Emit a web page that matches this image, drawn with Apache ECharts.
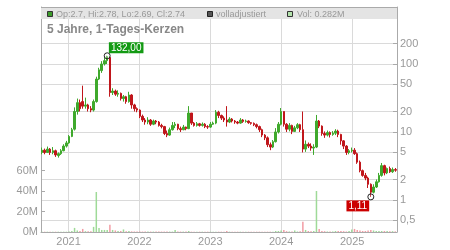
<!DOCTYPE html>
<html><head><meta charset="utf-8">
<script src="https://cdn.jsdelivr.net/npm/echarts@6/dist/echarts.min.js"></script>
<style>html,body{margin:0;padding:0;background:#fff}#c{width:450px;height:250px}</style>
</head><body><div id="c"></div>
<script>
// [date, open, close, low, high]
const candles = [
['2020-08-17',5.0,5.4,4.7,5.9],['2020-08-31',5.4,5.0,4.7,5.7],['2020-09-14',5.0,5.6,4.9,6.1],['2020-09-28',5.6,5.0,4.6,5.8],
['2020-10-12',5.0,5.3,4.7,6.0],['2020-10-26',5.3,4.6,4.3,5.5],['2020-11-09',4.5,4.8,4.2,5.0],['2020-11-23',4.8,5.3,4.6,5.6],
['2020-12-07',5.3,6.2,5.2,6.6],['2020-12-21',6.2,6.9,5.9,7.4],['2021-01-04',6.9,8.6,6.7,9.0],['2021-01-18',8.6,10.8,8.4,11.5],
['2021-02-01',11,20,10.5,23],['2021-02-15',20,27,18,31],['2021-03-01',27,22,20,30],['2021-03-15',28,24,22,48],
['2021-03-29',24,25,22,32],['2021-04-12',25,22,20,26],['2021-04-26',22,21,19.5,24],['2021-05-10',21,28,20,30],
['2021-05-24',28,60,27,65],['2021-06-07',60,82,58,88],['2021-06-21',80,100,74,110],['2021-07-05',100,112,95,125],
['2021-07-19',112,128,100,132],['2021-08-02',125,38,33,128],['2021-08-16',38,40,35,44],['2021-08-30',40,36,34,42],
['2021-09-13',36,37,33,41],['2021-09-27',37,31,29,38],['2021-10-11',31,33,28,35],['2021-10-25',33,28,26,34],
['2021-11-08',28,35,27,39],['2021-11-22',35,25,22,36],['2021-12-06',25,22,20,26],['2021-12-20',22,21,19.5,23],
['2022-01-03',21,17,16,21.5],['2022-01-17',17,15,14,18],['2022-01-31',15,14,12.8,16],['2022-02-14',14,15,13,16.5],
['2022-02-28',15,13,12.3,15.5],['2022-03-14',13,14.5,12.6,15.2],['2022-03-28',14.5,14,13,15],['2022-04-11',14,12.5,12,14.5],
['2022-04-25',12.5,12,11.3,13.2],['2022-05-09',12,9.5,9,12.3],['2022-05-23',9.5,9.0,8.4,10.5],['2022-06-06',9.0,10.8,8.8,11.6],
['2022-06-20',10.8,12.5,10.5,14],['2022-07-04',12.5,13,11.4,14],['2022-07-18',13,11.2,10.6,13.2],['2022-08-01',11.2,10.8,10,12],
['2022-08-15',10.8,11.8,10.6,12.7],['2022-08-29',11.8,11.2,10.6,12],['2022-09-12',11.2,19,11,24],['2022-09-26',19,13.5,12.7,19],
['2022-10-10',13.5,12.5,12,14],['2022-10-24',12.5,13.2,12,14],['2022-11-07',13.2,12.5,12,13.6],['2022-11-21',12.5,13,12,13.8],
['2022-12-05',13,12,11.4,13.5],['2022-12-19',12,11.8,11.1,12.6],['2023-01-02',11.8,13,11.5,14],['2023-01-16',13,13.5,12.7,14.2],
['2023-01-30',13.5,19.5,13,21],['2023-02-13',19.5,17.5,16,20.5],['2023-02-27',17.5,16,15,18],['2023-03-13',16,15,14,17],
['2023-03-27',15,14,12,24],['2023-04-10',14,15.5,13.5,16.5],['2023-04-24',15.5,14.5,13.8,16],['2023-05-08',14.5,14,13.2,15],
['2023-05-22',14,13.5,13,14.5],['2023-06-05',13.5,15,13.2,16],['2023-06-19',15,14.3,13.6,15.5],['2023-07-03',14.3,14.5,13.7,15.2],
['2023-07-17',14.5,13.7,13.2,14.8],['2023-07-31',13.7,13.4,12.8,14],['2023-08-14',13.4,12.8,12.2,13.8],['2023-08-28',12.8,12,11.3,13.3],
['2023-09-11',12,10.8,10,12.4],['2023-09-25',10.8,9,8.4,11.2],['2023-10-09',9,8.2,7.6,9.3],['2023-10-23',8.2,6.5,6,8.6],
['2023-11-06',6.5,6.0,5.4,7],['2023-11-20',6.0,7.2,5.8,7.6],['2023-12-04',7.2,10,7,11.4],['2023-12-18',10,13,9.5,14],
['2024-01-01',13,20,12.5,22.5],['2024-01-15',20,13,12,20],['2024-01-29',13,11,10,13.5],['2024-02-12',11,12.5,10.2,13.5],
['2024-02-26',12.5,10.2,9.3,12.8],['2024-03-11',10.2,11.5,10,12.3],['2024-03-25',11.5,12.8,11,13.5],['2024-04-08',12.8,10.8,10,13.2],
['2024-04-22',10.8,5.6,5.0,20],['2024-05-06',5.6,6.6,5.1,7.5],['2024-05-20',6.6,6.2,5.8,7.0],['2024-06-03',6.2,5.8,5.3,6.8],
['2024-06-17',5.8,6.0,4.6,6.6],['2024-07-01',6.0,14.5,5.8,17.8],['2024-07-15',14.5,12.2,11.4,15],['2024-07-29',12.2,9.5,8.8,12.5],
['2024-08-12',9.5,9.0,8.2,10.2],['2024-08-26',9.0,9.8,8.6,10.5],['2024-09-09',9.8,9.2,8.3,10.2],['2024-09-23',9.2,9.6,8.8,10.3],
['2024-10-07',9.6,10.3,9.0,11],['2024-10-21',10.3,9.2,8.4,10.8],['2024-11-04',9.2,7.4,6.5,9.4],['2024-11-18',7.4,6.2,5.6,7.6],
['2024-12-02',6.2,5.0,4.6,6.4],['2024-12-16',5.0,5.3,4.7,5.6],['2024-12-30',5.3,5.4,5.0,5.9],['2025-01-13',5.4,4.8,4.6,5.8],
['2025-01-27',4.8,3.6,3.4,5.0],['2025-02-10',3.6,2.7,2.55,3.8],['2025-02-24',2.7,2.3,2.2,2.8],['2025-03-10',2.3,2.1,1.95,2.5],
['2025-03-24',2.1,1.7,1.5,2.2],['2025-04-07',1.7,1.3,1.11,1.75],['2025-04-21',1.3,1.55,1.25,1.7],['2025-05-05',1.55,1.85,1.5,2.0],
['2025-05-19',1.85,2.3,1.8,2.5],['2025-06-02',2.3,3.2,2.2,3.5],['2025-06-16',3.2,2.5,2.3,3.3],['2025-06-30',2.5,2.9,2.4,3.0],
['2025-07-14',2.9,2.6,2.5,3.1],['2025-07-28',2.6,2.8,2.5,3.0],['2025-08-11',2.8,2.74,2.6,2.95]
];
// volume in millions, one per candle
const volumes = [
0.3,0.3,0.3,0.3,0.3,0.3,0.3,0.3,0.3,0.3,
0.5,1,4,1.5,1,3,0.8,0.8,0.8,5,
39,4,2,2,2,7,2,1.5,1,1,
2.5,0.8,1,0.6,0.5,0.5,0.4,0.4,0.4,0.4,
0.4,0.4,0.4,0.4,0.4,0.4,0.4,0.4,0.4,2,
0.4,0.4,0.4,0.4,1,0.3,0.3,0.3,0.3,0.3,
0.3,0.3,0.3,0.3,0.3,0.3,0.3,0.3,1,0.3,
0.3,0.3,0.3,0.3,0.3,0.3,0.3,0.3,0.3,0.3,
0.3,0.3,0.3,0.3,0.3,0.3,1,1,1.5,2,
0.8,0.5,0.5,1.5,0.5,0.8,10,2,1,0.8,
1,40,3,1,0.8,0.5,0.5,0.5,1,1,
1,0.8,0.5,1,2.5,3,2,1.5,1,1,
1.5,2,1.5,1,1,1,1,1,0.8,0.8,0.6
];
const yearTicks = ['2021-01-01','2022-01-01','2023-01-01','2024-01-01','2025-01-01'];
const priceTicks = [0.5,1,2,5,10,20,50,100,200];
const volTicks = [0,20,40,60];
const titleText = '5 Jahre, 1-Tages-Kerzen';
const legendTexts = ['Op:2.7, Hi:2.78, Lo:2.69, Cl:2.74','volladjustiert','Vol: 0.282M'];
const maxPoint = ['2021-07-19',132]; const maxLabel = '132,00';
const minPoint = ['2025-04-07',1.11]; const minLabel = '1,11';

const UP='#3fa92c', DOWN='#c0161b', VUP='#9fda98', VDOWN='#f29ca4';
const FONT='"Liberation Sans", Arial, sans-serif';
const GRID='#dadada', AX='#aaaaaa', TXT='#999999';
const YEAR = 365*24*3600*1000;

const volData = candles.map((c,i)=>({value:[c[0], volumes[i]], itemStyle:{color: c[2]>=c[1]?VUP:VDOWN}}));

const chart = echarts.init(document.getElementById('c'), null, {renderer:'canvas'});
chart.setOption({
  animation:false,
  grid:{left:41,right:53,top:7,bottom:18},
  xAxis:{type:'time',min:'2020-08-16',max:'2025-08-16',minInterval:YEAR,maxInterval:YEAR*1.01,
    axisLine:{show:true,lineStyle:{color:AX}},axisTick:{show:false},
    splitLine:{show:false},
    axisLabel:{formatter:v=>{const d=new Date(v);return (d.getMonth()===0&&d.getDate()===1)?String(d.getFullYear()):'';},
      color:TXT,fontSize:11,fontFamily:FONT,margin:4,showMinLabel:false,showMaxLabel:false}},
  yAxis:[
    {type:'log',logBase:10,position:'right',min:0.338,max:689,
     axisLine:{show:true,lineStyle:{color:AX}},
     axisTick:{show:true,inside:true,length:4,customValues:priceTicks,lineStyle:{color:AX}},
     axisLabel:{customValues:priceTicks,formatter:v=>String(v).replace('.',','),color:TXT,fontSize:11,fontFamily:FONT,margin:3},
     splitLine:{show:false}},
    {type:'value',position:'left',min:0,max:219.5,
     axisLine:{show:true,lineStyle:{color:AX}},
     axisTick:{show:true,inside:true,length:4,customValues:volTicks,lineStyle:{color:AX}},
     axisLabel:{customValues:volTicks,formatter:v=>v+'M',color:TXT,fontSize:11,fontFamily:FONT,margin:3},
     splitLine:{show:false}}
  ],
  series:[
    {type:'bar',yAxisIndex:1,barWidth:1.5,data:volData,z:1},
    {type:'candlestick',yAxisIndex:0,barWidth:2,z:3,
     itemStyle:{color:UP,color0:DOWN,borderColor:UP,borderColor0:DOWN,borderWidth:1},
     data:candles,
     markLine:{silent:true,symbol:'none',z:0,animation:false,label:{show:false},
       lineStyle:{color:GRID,width:1,type:'solid'},
       data:priceTicks.map(v=>({yAxis:v})).concat(yearTicks.map(d=>({xAxis:d})))},
     markPoint:{symbol:'circle',symbolSize:6,animation:false,
       itemStyle:{color:'rgba(255,255,255,0.2)',borderColor:'#222',borderWidth:1},
       label:{show:true,formatter:'{b}',color:'#fff',fontSize:10,fontFamily:FONT,padding:[1,2,0,2],position:'inside'},
       data:[
         {name:maxLabel,coord:maxPoint,label:{offset:[19,-8],backgroundColor:'#139a13'}},
         {name:minLabel,coord:minPoint,label:{offset:[-13,9],backgroundColor:'#cc0000'}}
       ]}}
  ],
  graphic:[
    {type:'rect',z:10,shape:{x:41,y:7,width:356,height:12},style:{fill:'#e4e4e4'}},
    {type:'line',z:11,shape:{x1:41,y1:7.5,x2:397,y2:7.5},style:{stroke:AX,lineWidth:1}},
    {type:'rect',z:11,shape:{x:47.5,y:11.5,width:5,height:5},style:{fill:'#3c9c2a',stroke:'#333',lineWidth:1}},
    {type:'text',z:11,x:56,y:14.5,style:{text:legendTexts[0],font:'9px '+FONT,fill:TXT,verticalAlign:'middle'}},
    {type:'rect',z:11,shape:{x:207.5,y:11.5,width:5,height:5},style:{fill:'#555',stroke:'#222',lineWidth:1}},
    {type:'text',z:11,x:216,y:14.5,style:{text:legendTexts[1],font:'9px '+FONT,fill:TXT,verticalAlign:'middle'}},
    {type:'rect',z:11,shape:{x:287.5,y:11.5,width:5,height:5},style:{fill:'#b3e3ac',stroke:'#333',lineWidth:1}},
    {type:'text',z:11,x:297,y:14.5,style:{text:legendTexts[2],font:'9px '+FONT,fill:TXT,verticalAlign:'middle'}},
    {type:'text',z:11,x:47,y:30,style:{text:titleText,font:'bold 12px '+FONT,fill:'#888',verticalAlign:'middle'}}
  ]
});
</script></body></html>
